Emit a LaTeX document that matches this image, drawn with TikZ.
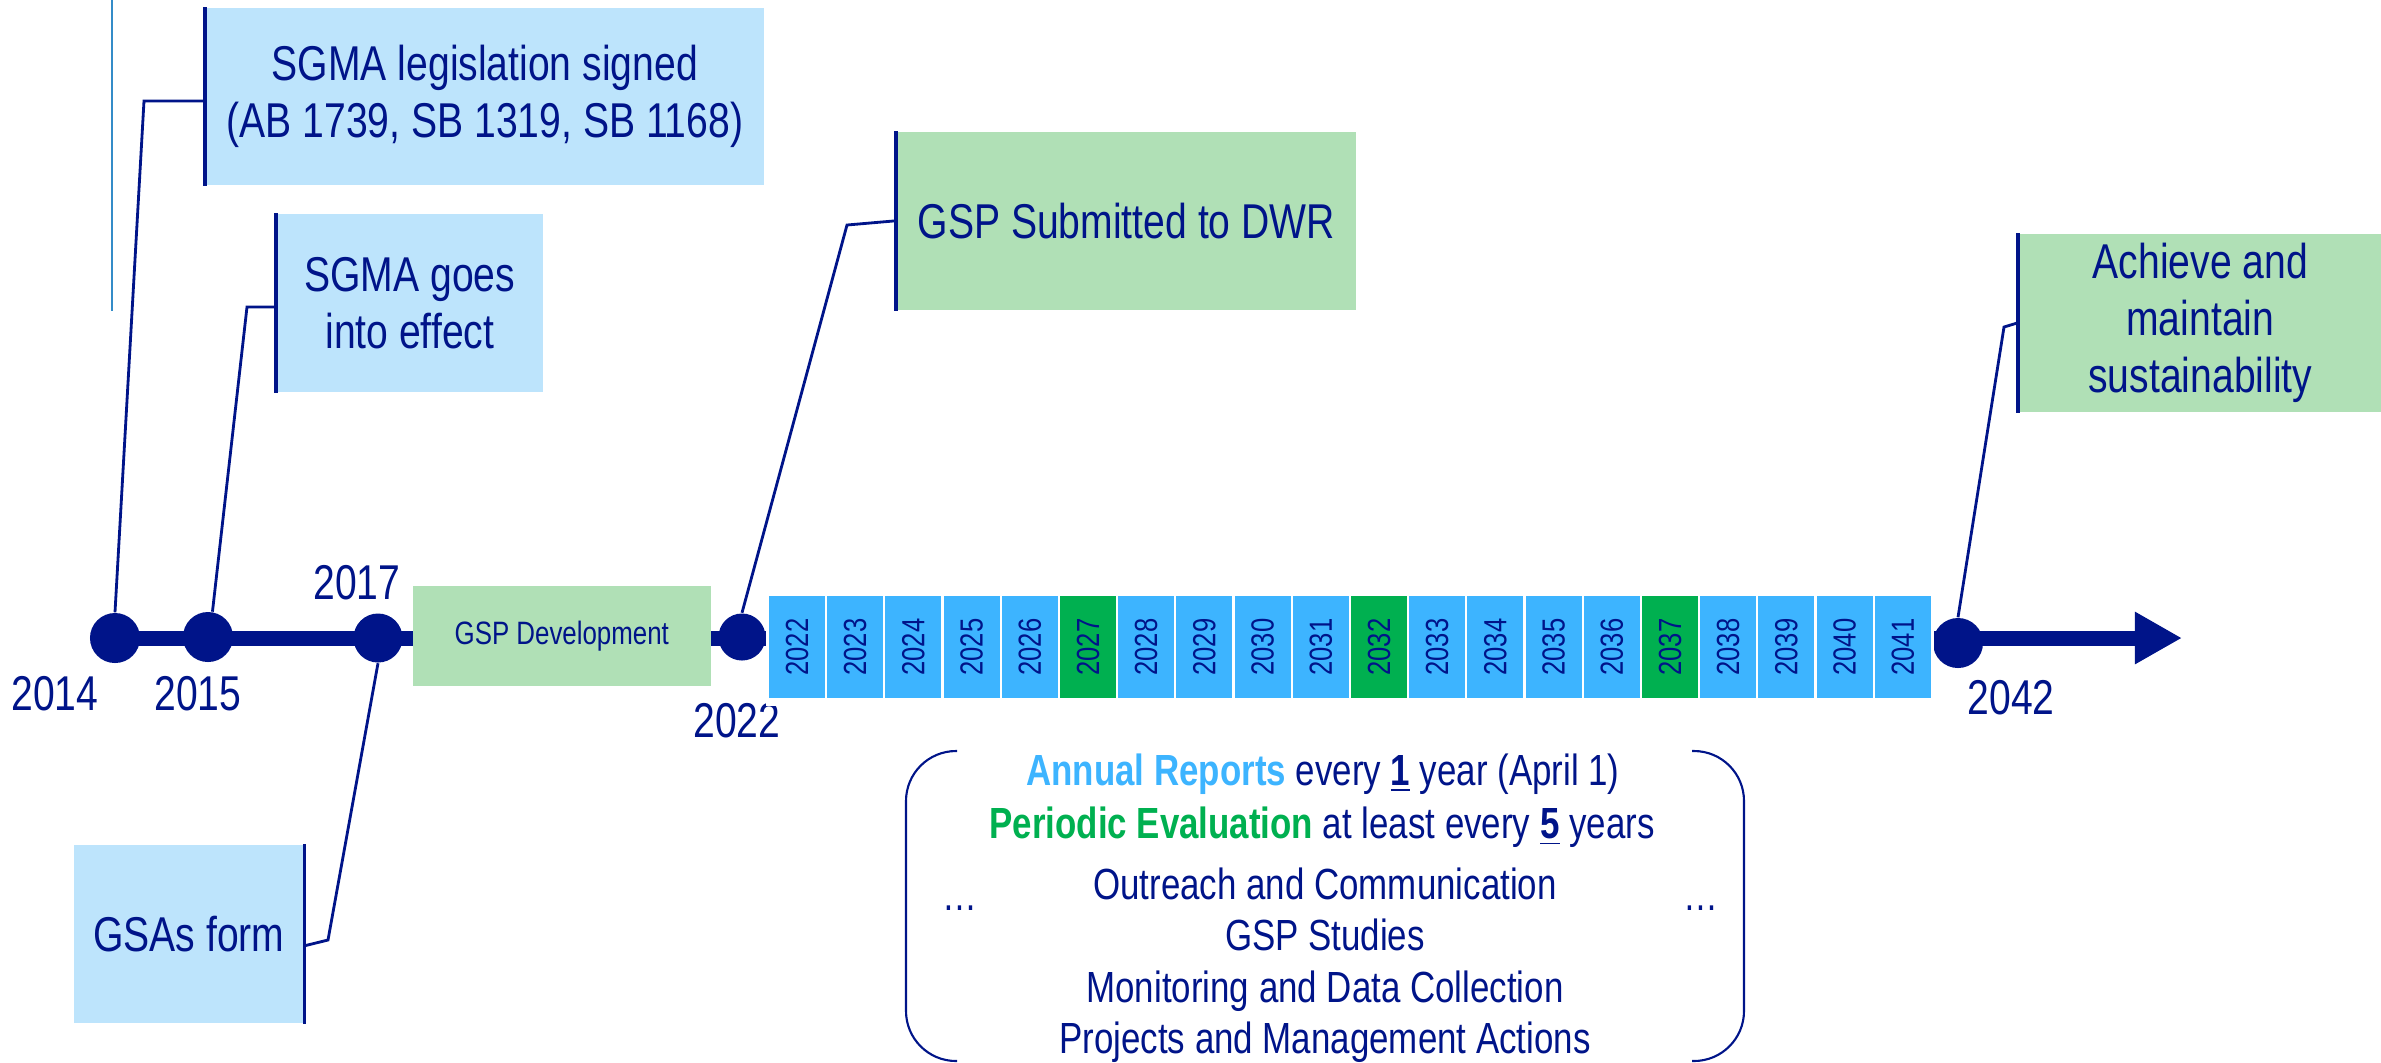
\documentclass[tikz,border=0pt]{standalone}
\usepackage{fontspec}
\setmainfont{Liberation Sans}[FakeStretch=0.8]
\usepackage{graphicx}
\usetikzlibrary{arrows.meta,calc}
\definecolor{navy}{RGB}{0,20,137}
\definecolor{lblue}{RGB}{189,228,252}
\definecolor{lgreen}{RGB}{176,224,182}
\definecolor{cblue}{RGB}{61,180,255}
\definecolor{cgreen}{RGB}{0,176,80}
\definecolor{steel}{RGB}{52,140,200}
\newcommand\tlBig{\fontsize{13.9}{16.2}\selectfont}
\newcommand\tlMid{\fontsize{12.4}{14}\selectfont}
\newcommand\tlSmall{\fontsize{9.2}{11}\selectfont}
\newcommand\tlCell{\fontsize{9.1}{10}\selectfont}
\begin{document}
\begin{tikzpicture}[x=0.01cm,y=-0.01cm,
  evbox/.style={anchor=north west, inner sep=0, align=center, text=navy, font=\tlBig},
  edgeline/.style={navy, line width=0.9pt},
  conn/.style={navy, line width=0.8pt},
  dot/.style={circle, fill=navy, inner sep=0, minimum size=0.5cm},
  yearlbl/.style={text=navy, font=\tlBig, inner sep=0, anchor=base},
  bar/.style={navy, line width=0.15cm, -{Triangle[length=0.47cm,width=0.49cm]}},
  cell/.style={inner sep=0, minimum width=0.56cm, minimum height=1.01cm, text=navy, font=\tlCell},
  btxt/.style={text=navy, font=\tlMid, inner sep=0, anchor=base}]
\useasboundingbox (0,0) rectangle (2381,1062);

% thin line top left
\draw[steel, line width=0.55pt] (112,0) -- (112,311);

% event boxes
\node[evbox, fill=lblue, minimum width=5.58cm, minimum height=1.77cm] (b1) at (205,7)
  {SGMA legislation signed\\(AB 1739, SB 1319, SB 1168)};
\node[evbox, fill=lblue, minimum width=2.66cm, minimum height=1.78cm] (b2) at (276,213)
  {SGMA goes\\into effect};
\node[evbox, fill=lgreen, minimum width=4.59cm, minimum height=1.78cm] (sub) at (896,131)
  {GSP Submitted to DWR};
\node[evbox, fill=lgreen, minimum width=3.63cm, minimum height=1.78cm] (ach) at (2018,233)
  {Achieve and\\maintain\\sustainability};
\node[evbox, fill=lblue, minimum width=2.30cm, minimum height=1.78cm] (gsa) at (73,844)
  {GSAs form};
\draw[edgeline] (b1.north west) -- (b1.south west);
\draw[edgeline] (b2.north west) -- (b2.south west);
\draw[edgeline] (sub.north west) -- (sub.south west);
\draw[edgeline] (ach.north west) -- (ach.south west);
\draw[edgeline] (gsa.north east) -- (gsa.south east);

% dots
\node[dot] (d2014) at (115,638) {};
\node[dot] (d2015) at (208,637) {};
\node[dot, minimum size=0.49cm] (d2017) at (378,638) {};
\node[dot, minimum size=0.47cm] (d2022) at (742,637) {};
\node[dot] (d2042) at (1958,643) {};

% main bar with arrow
\coordinate (aend) at (2182,638);
\draw[bar] (d2014.center) -- (aend);

% year labels
\node[yearlbl] (y2014) at (55,710) {2014};
\node[yearlbl] (y2015) at (198,710) {2015};
\node[yearlbl] (y2017) at (357,599) {2017};
\node[yearlbl] (y2022) at (737,737) {2022};
\node[yearlbl] (y2042) at (2011,714) {2042};

% GSP development box
\node[evbox, fill=lgreen, font=\tlSmall, minimum width=2.98cm, minimum height=1.00cm] (dev) at (412,585)
  {GSP Development};

% connectors
\coordinate (k1) at (144,101);
\draw[conn] (b1.west |- k1) -- (k1) -- (d2014.north);
\coordinate (k2) at (247,307);
\draw[conn] (b2.west |- k2) -- (k2) -- (d2015.80);
\coordinate (k3) at (328,940);
\draw[conn] (d2017.south) -- (k3) -- ($(gsa.east)+(0,12)$);
\coordinate (k4) at (847,225);
\draw[conn] (d2022.north) -- (k4) -- (sub.west);
\coordinate (k5) at (2004,327);
\draw[conn] (d2042.north) -- (k5) -- (ach.west);

% year cells
\fill[white] (766,594) rectangle (1934,706);
\foreach \i in {0,...,19}{
  \pgfmathtruncatemacro{\yr}{2022+\i}
  \pgfmathtruncatemacro{\g}{mod(\i,5)}
  \def\cc{cblue}
  \ifnum\g=0 \ifnum\i>0 \def\cc{cgreen}\fi\fi
  \node[cell, fill=\cc] (c\yr) at ({797+58.2*\i},647) {\rotatebox{90}{\yr}};
}

% bottom brackets
\draw[navy, line width=0.6pt, rounded corners=0.5cm] (957,751) -- (906,751) -- (906,1061) -- (957,1061);
\draw[navy, line width=0.6pt, rounded corners=0.5cm] (1692,751) -- (1744,751) -- (1744,1061) -- (1692,1061);

% bottom texts
\node[btxt] (t1) at (1323,785) {{\color{cblue}\bfseries Annual Reports} every \underline{\textbf{1}} year (April 1)};
\node[btxt] (t2) at (1322,838) {{\color{cgreen}\bfseries Periodic Evaluation} at least every \underline{\textbf{5}} years};
\node[btxt] (t3) at (1325,899) {Outreach and Communication};
\node[btxt] (t4) at (1325,950) {GSP Studies};
\node[btxt] (t5) at (1325,1002) {Monitoring and Data Collection};
\node[btxt] (t6) at (1325,1053) {Projects and Management Actions};
\node[btxt] (e1) at (960,910) {…};
\node[btxt] (e2) at (1701,910) {…};
\end{tikzpicture}
\end{document}
